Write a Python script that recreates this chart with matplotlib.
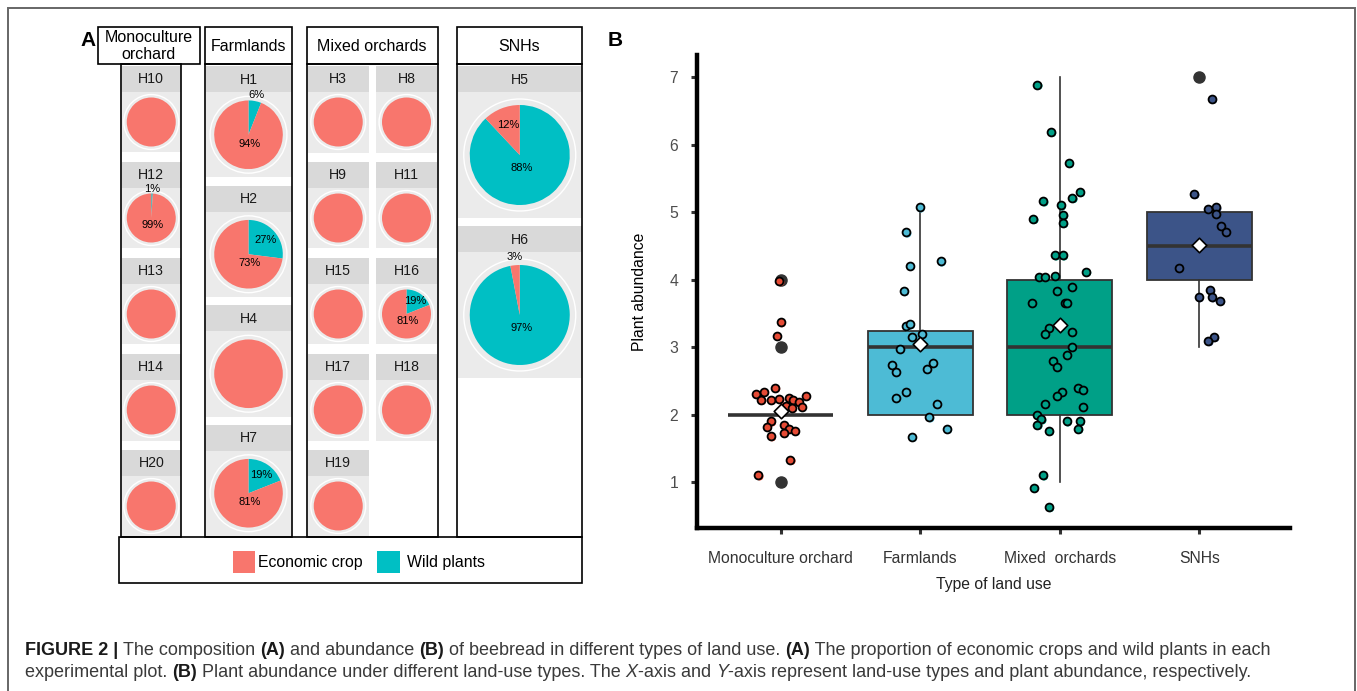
import numpy as np
import matplotlib
matplotlib.use("Agg")
import matplotlib.pyplot as plt
from matplotlib.patches import Rectangle, Circle
from matplotlib.transforms import offset_copy

plt.rcParams['font.family'] = ['Liberation Sans', 'DejaVu Sans']

# ---- panel A data: share of wild plants (%) per plot, rest is economic crop
mono_sites = ["H10", "H12", "H13", "H14", "H20"]
mono_wild = [0, 1, 0, 0, 0]
farm_sites = ["H1", "H2", "H4", "H7"]
farm_wild = [6, 27, 0, 19]
mixed_sites = ["H3", "H8", "H9", "H11", "H15", "H16", "H17", "H18", "H19"]
mixed_wild = [0, 0, 0, 0, 0, 19, 0, 0, 0]
snh_sites = ["H5", "H6"]
snh_wild = [88, 97]

group_names = ["Monoculture\norchard", "Farmlands", "Mixed orchards", "SNHs"]
legend_names = ["Economic crop", "Wild plants"]

# ---- panel B data (jittered points as they appear on the plot)
land_use = ["Monoculture orchard", "Farmlands", "Mixed  orchards", "SNHs"]
mono_y = [3.98, 3.37, 3.17, 2.40, 2.31, 2.34, 2.22, 2.22, 2.23, 2.25, 2.22, 2.19, 2.28,
          2.13, 2.10, 2.12, 1.90, 1.82, 1.85, 1.79, 1.76, 1.73, 1.68, 1.33, 1.10]
mono_dx = [-0.01, 0.0, -0.03, -0.04, -0.18, -0.12, -0.14, -0.07, -0.01, 0.06, 0.09, 0.13, 0.18,
           0.04, 0.08, 0.15, -0.07, -0.10, 0.02, 0.06, 0.10, 0.02, -0.07, 0.07, -0.16]
farm_y = [5.07, 4.70, 4.27, 4.21, 3.83, 3.31, 3.34, 3.20, 3.15, 2.97, 2.74, 2.63, 2.77,
          2.68, 2.34, 2.25, 2.16, 1.96, 1.79, 1.67]
farm_dx = [-0.005, -0.10, 0.146, -0.074, -0.118, -0.103, -0.074, 0.01, -0.062, -0.146, -0.201,
           -0.173, 0.091, 0.05, -0.103, -0.173, 0.12, 0.065, 0.192, -0.06]
mixed_y = [6.89, 6.19, 5.73, 5.30, 5.21, 5.16, 5.10, 4.96, 4.90, 4.84, 4.36, 4.36, 4.12,
           4.04, 4.04, 4.06, 3.83, 3.89, 3.66, 3.66, 3.66, 3.29, 3.20, 3.23, 3.00, 2.88,
           2.80, 2.71, 2.40, 2.37, 2.33, 2.27, 2.16, 2.11, 1.99, 1.93, 1.85, 1.90, 1.90,
           1.76, 1.79, 1.10, 0.92, 0.63]
mixed_dx = [-0.16, -0.062, 0.065, 0.144, 0.091, -0.118, 0.007, 0.024, -0.189, 0.024, -0.034,
            0.022, 0.189, -0.149, -0.106, -0.034, -0.022, 0.091, -0.201, 0.034, 0.053, -0.077,
            -0.106, 0.091, 0.091, 0.05, -0.05, -0.019, 0.132, 0.163, 0.019, -0.022, -0.106,
            0.163, -0.16, -0.132, -0.16, 0.05, 0.144, -0.077, 0.132, -0.12, -0.187, -0.077]
snh_y = [6.68, 5.27, 5.05, 5.07, 4.98, 4.79, 4.70, 4.18, 3.84, 3.74, 3.74, 3.69, 3.15, 3.09]
snh_dx = [0.091, -0.036, 0.065, 0.122, 0.12, 0.158, 0.189, -0.146, 0.077, -0.005, 0.091,
          0.149, 0.106, 0.065]

box_q1 = [2, 2, 2, 4]
box_med = [2, 3, 3, 4.5]
box_q3 = [2, 3.24, 4, 5]
whisk_lo = [2, 2, 1, 3]
whisk_hi = [2, 5.07, 7, 5]
outliers = [[1, 3, 4], [], [], [7]]
means = [2.06, 3.05, 3.33, 4.51]

red, teal = "#F8766D", "#00BFC4"
npg = ["#E64B35", "#4DBBD5", "#00A087", "#3C5488"]

W, H = 1357, 691
fig = plt.figure(figsize=(W / 100, H / 100), dpi=100)


def px_axes(x0, y0, x1, y1):
    return fig.add_axes([x0 / W, 1 - y1 / H, (x1 - x0) / W, (y1 - y0) / H])


# overlay in pixel coordinates for boxes, strips, caption
ov = px_axes(0, 0, W, H)
ov.set_xlim(0, W)
ov.set_ylim(H, 0)
ov.axis("off")
ov.set_zorder(10)


def pie_cell(x0, top, x1, strip_h, panel_h, r, site, wild):
    ov.add_patch(Rectangle((x0, top), x1 - x0, strip_h, facecolor="#D9D9D9", edgecolor="none"))
    ov.text((x0 + x1) / 2, top + strip_h / 2 + 0.5, site, ha="center", va="center",
            fontsize=10.2, color="#1A1A1A")
    pw = x1 - x0
    pa = px_axes(x0, top + strip_h, x1, top + strip_h + panel_h)
    pa.set_facecolor("#EBEBEB")
    cx, cy = pw / 2, panel_h / 2
    pa.add_patch(Circle((cx, cy), r * 1.12, fill=False, edgecolor="white", lw=1.0, zorder=0))
    pa.pie([wild, 100 - wild], colors=[teal, red], startangle=90, counterclock=False,
           center=(cx, cy), radius=r, frame=True)
    pa.set_xlim(0, pw)
    pa.set_ylim(0, panel_h)
    pa.set_xticks([])
    pa.set_yticks([])
    for s in pa.spines.values():
        s.set_visible(False)
    # percentage labels go on the overlay so they can sit over the strip
    ox, oy = (x0 + x1) / 2, top + strip_h + panel_h / 2
    if 0 < wild < 100:
        for pct, start in [(wild, 0), (100 - wild, wild)]:
            if pct >= 50:
                ang, rad = 172, 0.27
            else:
                ang = (start + pct / 2) * 3.6
                rad = 1.17 if pct < 10 else 0.65
            t = np.deg2rad(ang)
            ov.text(ox + rad * r * np.sin(t), oy - rad * r * np.cos(t), f"{pct}%",
                    ha="center", va="center", fontsize=8, color="black")


# monoculture column
for i, (s, w) in enumerate(zip(mono_sites, mono_wild)):
    pie_cell(121.5, 66 + 96 * i, 181, 25.5, 61, 24.5, s, w)
# farmlands column
for i, (s, w) in enumerate(zip(farm_sites, farm_wild)):
    pie_cell(205.5, 66 + 119.5 * i, 291.5, 26, 85.5, 34.3, s, w)
# mixed orchards, two sub-columns
sub_cols = [(307.5, 369), (376, 437)]
for i, (s, w) in enumerate(zip(mixed_sites, mixed_wild)):
    x0, x1 = sub_cols[i % 2]
    pie_cell(x0, 66 + 96 * (i // 2), x1, 25.5, 61, 24.5, s, w)
# SNHs
for i, (s, w) in enumerate(zip(snh_sites, snh_wild)):
    pie_cell(457.5, 66 + 160 * i, 582, 26, 126, 50, s, w)

# header boxes and column frames
headers = [(97.7, 200), (205, 291.7), (306.7, 437.7), (456.7, 582.3)]
columns = [(121, 181), (205, 291.7), (306.7, 437.7), (456.7, 582.3)]
for (hx0, hx1), (cx0, cx1), name in zip(headers, columns, group_names):
    ov.add_patch(Rectangle((hx0, 27.3), hx1 - hx0, 36.7, facecolor="white", edgecolor="black", lw=1.2))
    ov.text((hx0 + hx1) / 2, 46, name, ha="center", va="center", fontsize=11.5,
            linespacing=1.12, color="black")
    ov.add_patch(Rectangle((cx0, 64), cx1 - cx0, 536.7 - 64, fill=False, edgecolor="black", lw=1.2))

# legend box
ov.add_patch(Rectangle((119.3, 536.7), 463, 46.6, fill=False, edgecolor="black", lw=1.2))
ov.add_patch(Rectangle((232.7, 550.7), 22.5, 22.5, facecolor=red, edgecolor="none"))
ov.text(258.5, 562.5, legend_names[0], ha="left", va="center", fontsize=11.4)
ov.add_patch(Rectangle((377.3, 550.7), 22.5, 22.5, facecolor=teal, edgecolor="none"))
ov.text(407.3, 562.5, legend_names[1], ha="left", va="center", fontsize=11.4)

ov.text(88, 40, "A", ha="center", va="center", fontsize=15, fontweight="bold")
ov.text(615, 40, "B", ha="center", va="center", fontsize=15, fontweight="bold")

# outer frame
ov.plot([8, 8, 1355, 1355], [H, 8, 8, H], color="#666666", lw=1.4, solid_joinstyle="miter")

# ---- panel B
ax = px_axes(697, 55, 1290, 528)
stats = []
for i in range(4):
    stats.append(dict(med=box_med[i], q1=box_q1[i], q3=box_q3[i], whislo=whisk_lo[i],
                      whishi=whisk_hi[i], fliers=outliers[i], label=land_use[i]))
bp = ax.bxp(stats, positions=[1, 2, 3, 4], widths=0.75, patch_artist=True, showcaps=False,
            boxprops=dict(edgecolor="#333333", linewidth=1.3),
            medianprops=dict(color="#333333", linewidth=2.6, solid_capstyle="butt"),
            whiskerprops=dict(color="#333333", linewidth=1.2),
            flierprops=dict(marker="o", markerfacecolor="#333333", markeredgecolor="#333333",
                            markersize=8))
for patch, c in zip(bp["boxes"], npg):
    patch.set_facecolor(c)
    patch.set_zorder(1)

shadow = offset_copy(ax.transData, fig=fig, x=1.2, y=-1.2, units="dots")
groups_y = [mono_y, farm_y, mixed_y, snh_y]
groups_dx = [mono_dx, farm_dx, mixed_dx, snh_dx]
for i, (ys, dxs) in enumerate(zip(groups_y, groups_dx)):
    xs = np.array(dxs) + i + 1
    ax.scatter(xs, ys, s=32, color=npg[i], edgecolor="none", transform=shadow, zorder=3)
    ax.scatter(xs, ys, s=32, facecolor=npg[i], edgecolor="black", linewidth=1.3, zorder=3.5)
ax.scatter([1, 2, 3, 4], means, marker="D", s=55, facecolor="white", edgecolor="black",
           linewidth=1.2, zorder=5)

ax.set_xlim(0.4, 4.65)
ax.set_ylim(0.32, 7.33)
ax.set_yticks([1, 2, 3, 4, 5, 6, 7])
ax.set_xticks([1, 2, 3, 4])
ax.set_xticklabels(land_use, fontsize=11.3, color="#333333")
ax.tick_params(axis="y", labelsize=11.3, labelcolor="#4D4D4D", length=4.5, width=2.2,
               color="#333333", pad=9)
ax.tick_params(axis="x", length=4.5, width=2.2, color="#333333", pad=12)
for side in ["top", "right"]:
    ax.spines[side].set_visible(False)
for side in ["left", "bottom"]:
    ax.spines[side].set_linewidth(3.2)
    ax.spines[side].set_color("black")
ax.set_ylabel("Plant abundance", fontsize=11.3, color="black")
ax.yaxis.set_label_coords(-0.085, 0.5)
ax.set_xlabel("Type of land use", fontsize=11.3, color="#222222")
ax.xaxis.set_label_coords(0.5, -0.104)

# ---- caption with mixed font styles
line1 = [("FIGURE 2 | ", "bold"), ("The composition ", "normal"), ("(A)", "bold"),
         (" and abundance ", "normal"), ("(B)", "bold"),
         (" of beebread in different types of land use. ", "normal"), ("(A)", "bold"),
         (" The proportion of economic crops and wild plants in each", "normal")]
line2 = [("experimental plot. ", "normal"), ("(B)", "bold"),
         (" Plant abundance under different land-use types. The ", "normal"), ("X", "italic"),
         ("-axis and ", "normal"), ("Y", "italic"),
         ("-axis represent land-use types and plant abundance, respectively.", "normal")]

renderer = fig.canvas.get_renderer()


def style_kw(st, size):
    kw = dict(fontsize=size)
    if st == "bold":
        kw["fontweight"] = "bold"
    if st == "italic":
        kw["fontstyle"] = "italic"
    return kw


def seg_width(s, st, size):
    t1 = ov.text(0, 0, "|" + s + "|", **style_kw(st, size))
    t2 = ov.text(0, 0, "||", **style_kw(st, size))
    w = t1.get_window_extent(renderer).width - t2.get_window_extent(renderer).width
    t1.remove()
    t2.remove()
    return w


base = 10
w1 = sum(seg_width(s, st, base) for s, st in line1)
cap_size = base * (1278 - 25) / w1

for segs, yb in [(line1, 655), (line2, 677)]:
    x = 25
    for s, st in segs:
        color = "#1A1A1A" if st == "bold" else "#3A3A3A"
        ov.text(x, yb, s, ha="left", va="baseline", color=color, **style_kw(st, cap_size))
        x += seg_width(s, st, cap_size)

fig.savefig("out.png", dpi=100)
